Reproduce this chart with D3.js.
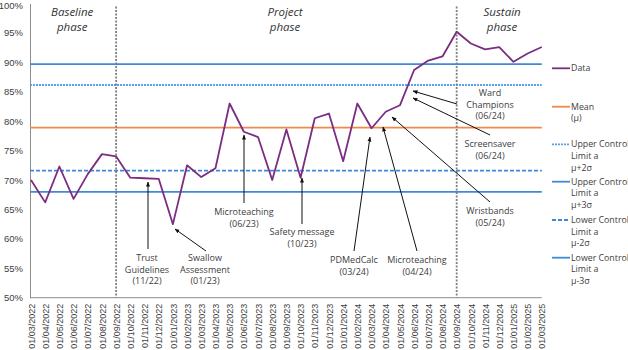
<!DOCTYPE html>
<html>
<head>
<meta charset="utf-8">
<script src="https://cdn.jsdelivr.net/npm/d3@7"></script>
<style>
  body { margin: 0; background: #fff; }
  svg { font-family: "Open Sans", "Liberation Sans", sans-serif; }
</style>
</head>
<body>
<div id="chart"></div>
<script>
// Monthly labels, 01/03/2022 .. 01/03/2025
const months = [
  "01/03/2022","01/04/2022","01/05/2022","01/06/2022","01/07/2022","01/08/2022",
  "01/09/2022","01/10/2022","01/11/2022","01/12/2022","01/01/2023","01/02/2023",
  "01/03/2023","01/04/2023","01/05/2023","01/06/2023","01/07/2023","01/08/2023",
  "01/09/2023","01/10/2023","01/11/2023","01/12/2023","01/01/2024","01/02/2024",
  "01/03/2024","01/04/2024","01/05/2024","01/06/2024","01/07/2024","01/08/2024",
  "01/09/2024","01/10/2024","01/11/2024","01/12/2024","01/01/2025","01/02/2025",
  "01/03/2025"
];
// Compliance (%)
const values = [
  70.0, 66.2, 72.3, 66.8, 71.0, 74.4,
  74.0, 70.4, 70.3, 70.2, 62.5, 72.5,
  70.5, 72.0, 83.0, 78.2, 77.3, 70.0,
  78.6, 70.4, 80.5, 81.3, 73.2, 83.0,
  78.8, 81.6, 82.7, 88.7, 90.3, 91.0,
  95.2, 93.2, 92.2, 92.6, 90.1, 91.5,
  92.6
];
// Control limits
const mean = 78.9;
const ucl2 = 86.15, ucl3 = 89.7;
const lcl2 = 71.6, lcl3 = 68.0;
const yTicks = [50, 55, 60, 65, 70, 75, 80, 85, 90, 95, 100];

const phaseBreaks = ["01/09/2022", "01/09/2024"];
const phases = [
  { lines: ["Baseline", "phase"], at: 2.9 },
  { lines: ["Project", "phase"], at: 17.9 },
  { lines: ["Sustain", "phase"], at: 33.2 }
];

// Annotations: label lines, label centre, arrow tail and head
const notes = [
  { lines: ["Trust", "Guidelines", "(11/22)"], lx: 147, ly: 258, tail: [148, 249], head: [148, 182] },
  { lines: ["Swallow", "Assessment", "(01/23)"], lx: 205, ly: 258, tail: [206, 251], head: [175, 229] },
  { lines: ["Microteaching", "(06/23)"], lx: 244, ly: 212, tail: [244, 203], head: [244, 135] },
  { lines: ["Safety message", "(10/23)"], lx: 302, ly: 232, tail: [302, 224], head: [302, 178] },
  { lines: ["PDMedCalc", "(03/24)"], lx: 354, ly: 260, tail: [354, 251], head: [370, 137] },
  { lines: ["Microteaching", "(04/24)"], lx: 417, ly: 260, tail: [417, 251], head: [383, 127] },
  { lines: ["Wristbands", "(05/24)"], lx: 490, ly: 211, tail: [490, 202], head: [392, 117] },
  { lines: ["Screensaver", "(06/24)"], lx: 490, ly: 144, tail: [490, 135], head: [413, 98] },
  { lines: ["Ward", "Champions", "(06/24)"], lx: 490, ly: 93, tail: [457, 104], head: [413, 91] }
];

const colors = {
  data: "#7b2d81",
  mean: "#f0894a",
  blue: "#3f8ad8",
  blueLight: "#5aa2e6",
  text: "#404040",
  axis: "#8c8c8c"
};

const legendItems = [
  { lines: ["Data"], color: colors.data, dash: null },
  { lines: ["Mean", "(μ)"], color: colors.mean, dash: null },
  { lines: ["Upper Control", "Limit a", "μ+2σ"], color: colors.blueLight, dash: "2,1" },
  { lines: ["Upper Control", "Limit a", "μ+3σ"], color: colors.blue, dash: null },
  { lines: ["Lower Control", "Limit a", "μ-2σ"], color: colors.blue, dash: "4,2" },
  { lines: ["Lower Control", "Limit a", "μ-3σ"], color: colors.blue, dash: null }
];

const width = 628, height = 350;

const svg = d3.select("#chart").append("svg")
  .attr("width", width)
  .attr("height", height);

const x = d3.scalePoint()
  .domain(months)
  .range([31, 541.8]);

const y = d3.scaleLinear()
  .domain([50, 100])
  .range([297.7, 3.5]);

// Y axis
const yAxis = svg.append("g")
  .attr("transform", `translate(${x.range()[0] - 1},0)`)
  .call(d3.axisLeft(y).tickValues(yTicks).tickSize(0).tickPadding(7)
    .tickFormat(d => d + "%"));
yAxis.select(".domain").attr("stroke", colors.axis);
yAxis.selectAll("text")
  .attr("fill", colors.text)
  .style("font-size", "9.5px");
yAxis.selectAll(".tick text").filter(d => d === 100).attr("dy", "0.5em");

// X axis
const xAxis = svg.append("g")
  .attr("transform", `translate(0,${y(50)})`)
  .call(d3.axisBottom(x).tickSize(0).tickPadding(0));
xAxis.select(".domain").attr("stroke", colors.axis).attr("d", `M${x.range()[0] - 1},0H${x.range()[1]}`);
xAxis.selectAll("text")
  .attr("fill", colors.text)
  .style("font-size", "9px")
  .attr("text-anchor", "end")
  .attr("transform", "rotate(-90)")
  .attr("x", -6)
  .attr("y", 0)
  .attr("dy", "0.35em");

// Control lines
const hLines = [
  { v: ucl3, color: colors.blue, dash: null },
  { v: ucl2, color: colors.blueLight, dash: "2,1" },
  { v: mean, color: colors.mean, dash: null },
  { v: lcl2, color: colors.blue, dash: "4,2" },
  { v: lcl3, color: colors.blue, dash: null }
];
svg.append("g").selectAll("line")
  .data(hLines)
  .join("line")
  .attr("x1", x.range()[0] - 1)
  .attr("x2", x.range()[1])
  .attr("y1", d => y(d.v))
  .attr("y2", d => y(d.v))
  .attr("stroke", d => d.color)
  .attr("stroke-width", 1.8)
  .attr("stroke-dasharray", d => d.dash);

// Phase dividers
svg.append("g").selectAll("line")
  .data(phaseBreaks)
  .join("line")
  .attr("x1", d => x(d))
  .attr("x2", d => x(d))
  .attr("y1", y(99.5))
  .attr("y2", y(50))
  .attr("stroke", "#7f7f7f")
  .attr("stroke-width", 1.8)
  .attr("stroke-dasharray", "2,1.5");

// Phase labels
const phaseText = svg.append("g").selectAll("text")
  .data(phases)
  .join("text")
  .attr("x", d => x.range()[0] + d.at * x.step())
  .attr("y", 16)
  .attr("text-anchor", "middle")
  .attr("font-style", "italic")
  .attr("fill", "#333")
  .style("font-size", "11.5px");
phaseText.selectAll("tspan")
  .data(d => d.lines)
  .join("tspan")
  .attr("x", function() { return this.parentNode.getAttribute("x"); })
  .attr("dy", (d, i) => i ? 14.5 : 0)
  .text(d => d);

// Data line
const line = d3.line()
  .x((d, i) => x(months[i]))
  .y(d => y(d));
svg.append("path")
  .datum(values)
  .attr("fill", "none")
  .attr("stroke", colors.data)
  .attr("stroke-width", 1.8)
  .attr("stroke-linejoin", "round")
  .attr("d", line);

// Arrow marker
svg.append("defs").append("marker")
  .attr("id", "arrow")
  .attr("viewBox", "0 0 10 10")
  .attr("refX", 9)
  .attr("refY", 5)
  .attr("markerWidth", 5)
  .attr("markerHeight", 5)
  .attr("orient", "auto")
  .append("path")
  .attr("d", "M0,1L10,5L0,9Z")
  .attr("fill", "#111");

// Annotations
const noteG = svg.append("g").selectAll("g")
  .data(notes)
  .join("g");
noteG.append("line")
  .attr("x1", d => d.tail[0])
  .attr("y1", d => d.tail[1])
  .attr("x2", d => d.head[0])
  .attr("y2", d => d.head[1])
  .attr("stroke", "#111")
  .attr("stroke-width", 1)
  .attr("marker-end", "url(#arrow)");
noteG.append("text")
  .attr("text-anchor", "middle")
  .attr("fill", colors.text)
  .style("font-size", "9px")
  .selectAll("tspan")
  .data(d => d.lines.map((t, i) => ({ t, i, d })))
  .join("tspan")
  .attr("x", o => o.d.lx)
  .attr("y", o => o.d.ly + o.i * 11.6)
  .attr("dy", "0.35em")
  .text(o => o.t);

// Legend
const legendY = [68.3, 106.7, 144.3, 181.7, 220, 257.7];
const legend = svg.append("g").selectAll("g")
  .data(legendItems)
  .join("g")
  .attr("transform", (d, i) => `translate(552,${legendY[i]})`);
legend.append("line")
  .attr("x1", 0)
  .attr("x2", 18)
  .attr("stroke", d => d.color)
  .attr("stroke-width", 1.8)
  .attr("stroke-dasharray", d => d.dash);
legend.append("text")
  .attr("fill", colors.text)
  .style("font-size", "8.8px")
  .selectAll("tspan")
  .data(d => d.lines)
  .join("tspan")
  .attr("x", 19)
  .attr("y", (d, i) => i * 11.6)
  .attr("dy", "0.35em")
  .text(d => d);
</script>
</body>
</html>
